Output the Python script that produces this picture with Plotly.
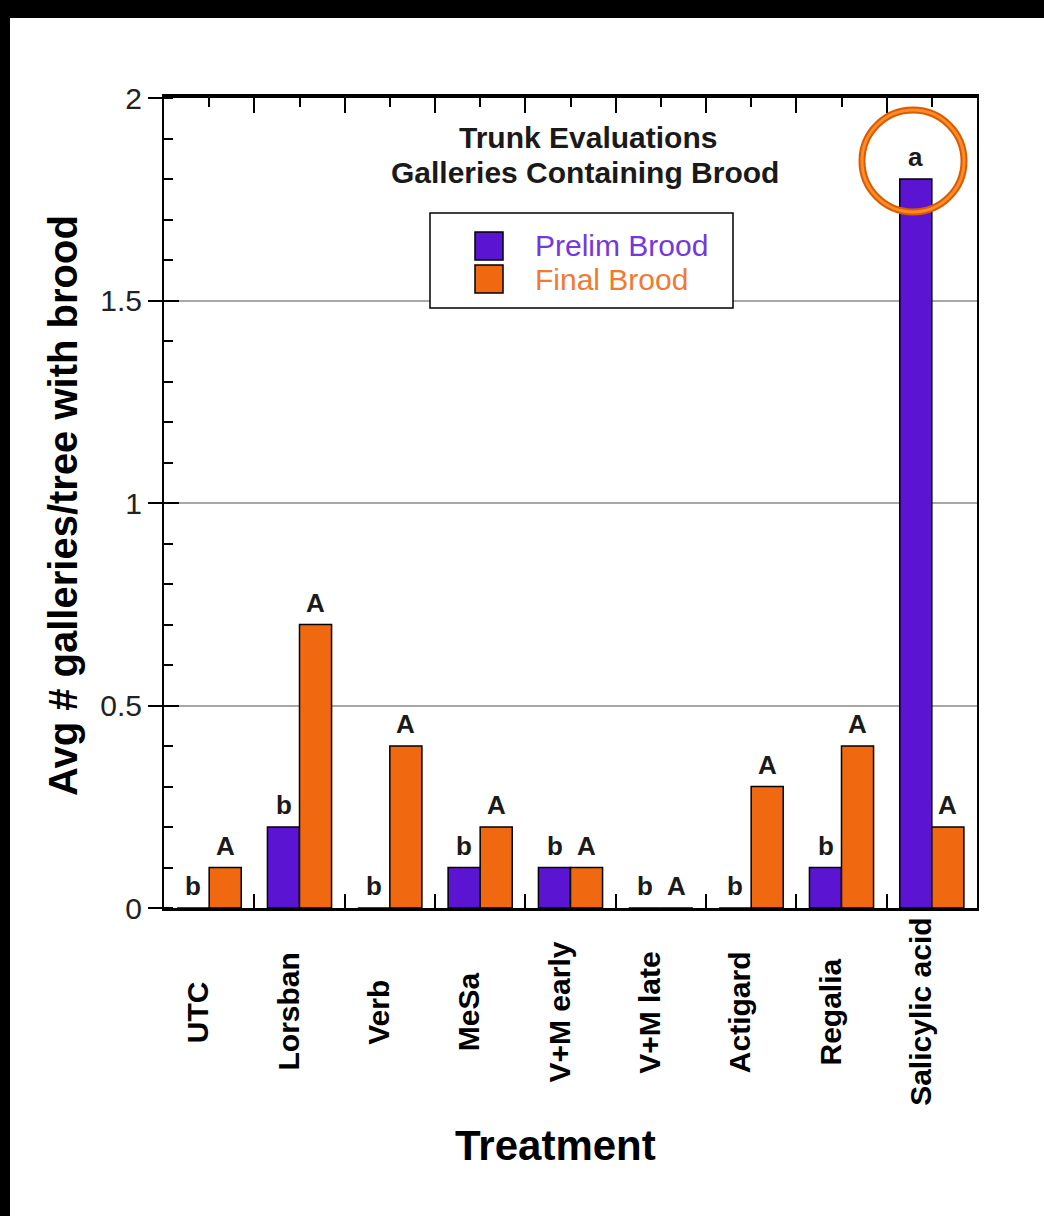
import plotly.graph_objects as go

# Trunk evaluation data: average galleries per tree containing brood
treatments = ["UTC", "Lorsban", "Verb", "MeSa", "V+M early", "V+M late",
              "Actigard", "Regalia", "Salicylic acid"]
prelim_brood = [0.0, 0.2, 0.0, 0.1, 0.1, 0.0, 0.0, 0.1, 1.8]
final_brood = [0.1, 0.7, 0.4, 0.2, 0.1, 0.0, 0.3, 0.4, 0.2]
prelim_letters = ["b", "b", "b", "b", "b", "b", "b", "b", "a"]
final_letters = ["A", "A", "A", "A", "A", "A", "A", "A", "A"]
y_tick_vals = [0, 0.5, 1, 1.5, 2]
y_tick_text = ["0", "0.5", "1", "1.5", "2"]

PURPLE = "#5B14D2"
ORANGE = "#F0680F"
PURPLE_TXT = "#7438E0"
ORANGE_TXT = "#F07A30"

W, H = 1044, 1216
L, R, T, B = 164, 977, 98, 908  # plot area in pixels


def px(xp):
    return (xp - L) / (R - L)


def py(yp):
    return (B - yp) / (B - T)


fig = go.Figure()
fig.add_trace(go.Bar(name="Prelim Brood", x=treatments, y=prelim_brood,
                     marker=dict(color=PURPLE, line=dict(color="black", width=1.5))))
fig.add_trace(go.Bar(name="Final Brood", x=treatments, y=final_brood,
                     marker=dict(color=ORANGE, line=dict(color="black", width=1.5))))
# empty helpers so the top and inner-left tick axes are drawn
fig.add_trace(go.Scatter(x=[], y=[], xaxis="x2", yaxis="y", showlegend=False))
fig.add_trace(go.Scatter(x=[], y=[], xaxis="x", yaxis="y2", showlegend=False))

ann = []
BAR_HALF = 16
letter_font = dict(family="Liberation Sans, Arial, sans-serif", size=26, color="#1a1a1a")
for t, v, s in zip(treatments, prelim_brood, prelim_letters):
    ann.append(dict(x=t, y=v, xref="x", yref="y", text="<b>%s</b>" % s, showarrow=False,
                    xshift=-BAR_HALF, yshift=5, yanchor="bottom", font=letter_font))
for t, v, s in zip(treatments, final_brood, final_letters):
    ann.append(dict(x=t, y=v, xref="x", yref="y", text="<b>%s</b>" % s, showarrow=False,
                    xshift=BAR_HALF, yshift=5, yanchor="bottom", font=letter_font))

# rotated category labels, centred below the axis
for t in treatments:
    ann.append(dict(x=t, y=py(1012), xref="x", yref="paper", text="<b>%s</b>" % t,
                    textangle=-90, showarrow=False, xshift=-12, xanchor="center",
                    yanchor="middle",
                    font=dict(family="Liberation Sans, Arial, sans-serif", size=30, color="black")))

title_font = dict(family="Liberation Sans, Arial, sans-serif", size=30, color="#1a1a1a")
ann.append(dict(x=px(588), y=py(137), xref="paper", yref="paper", text="<b>Trunk Evaluations</b>",
                showarrow=False, xanchor="center", yanchor="middle", font=title_font))
ann.append(dict(x=px(585), y=py(173), xref="paper", yref="paper",
                text="<b>Galleries Containing Brood</b>",
                showarrow=False, xanchor="center", yanchor="middle", font=title_font))

# axis titles
ann.append(dict(x=px(555), y=py(1145), xref="paper", yref="paper", text="<b>Treatment</b>",
                showarrow=False, xanchor="center", yanchor="middle",
                font=dict(family="Liberation Sans Narrow, Liberation Sans, Arial", size=42, color="black")))
ann.append(dict(x=px(63), y=py(506), xref="paper", yref="paper",
                text="<b>Avg # galleries/tree with brood</b>", textangle=-90,
                showarrow=False, xanchor="center", yanchor="middle",
                font=dict(family="Liberation Sans, Arial, sans-serif", size=40, color="black")))

# legend box drawn by hand
shapes = []
shapes.append(dict(type="rect", xref="paper", yref="paper", x0=px(430), x1=px(733),
                   y0=py(308), y1=py(213), line=dict(color="black", width=1.5),
                   fillcolor="white", layer="above"))
legend_items = [(fig.data[0].name, PURPLE, PURPLE_TXT, 232), (fig.data[1].name, ORANGE, ORANGE_TXT, 265)]
for name, col, tcol, top in legend_items:
    shapes.append(dict(type="rect", xref="paper", yref="paper", x0=px(475), x1=px(503),
                       y0=py(top + 28), y1=py(top), fillcolor=col,
                       line=dict(color="black", width=1.5), layer="above"))
    ann.append(dict(x=px(533), y=py(top + 14), xref="paper", yref="paper", text=name,
                    showarrow=False, xanchor="left", yanchor="middle",
                    font=dict(family="Liberation Sans, Arial, sans-serif", size=30, color=tcol)))

# highlight ring around the significant result
shapes.append(dict(type="circle", xref="paper", yref="paper", x0=px(862), x1=px(964),
                   y0=py(212), y1=py(110), line=dict(color="#D85C00", width=7), layer="above"))
shapes.append(dict(type="circle", xref="paper", yref="paper", x0=px(862), x1=px(964),
                   y0=py(212), y1=py(110), line=dict(color="#FF8A2A", width=3), layer="above"))

# dark frame along the top and left edges
shapes.append(dict(type="rect", xref="paper", yref="paper", x0=px(-5), x1=px(W + 5),
                   y0=py(18), y1=py(-5), fillcolor="black", line=dict(width=0), layer="above"))
shapes.append(dict(type="rect", xref="paper", yref="paper", x0=px(-5), x1=px(10),
                   y0=py(H + 5), y1=py(-5), fillcolor="black", line=dict(width=0), layer="above"))

fig.update_layout(
    width=W, height=H,
    margin=dict(l=L, r=W - R, t=T, b=H - B, autoexpand=False),
    paper_bgcolor="white", plot_bgcolor="white",
    barmode="group", bargap=0.29, bargroupgap=0,
    showlegend=False,
    annotations=ann, shapes=shapes,
    xaxis=dict(type="category", range=[-0.5, 8.5], showline=True, linecolor="black",
               linewidth=2.5, ticks="inside", tickson="boundaries", ticklen=14,
               tickwidth=2, tickcolor="black", showticklabels=False, showgrid=False,
               zeroline=False),
    xaxis2=dict(overlaying="x", side="top", anchor="y", range=[-0.5, 8.5],
                tickmode="array", tickvals=[i - 0.5 for i in range(1, 9)],
                ticks="inside", ticklen=15, tickwidth=2, tickcolor="black",
                minor=dict(tickmode="array", tickvals=list(range(9)), ticks="inside",
                           ticklen=9, tickwidth=1.5, tickcolor="black"),
                showline=True, linecolor="black", linewidth=3.5,
                showticklabels=False, showgrid=False, zeroline=False),
    yaxis=dict(range=[0, 2], tickmode="array", tickvals=y_tick_vals, ticktext=y_tick_text,
               ticks="outside", ticklen=14, tickwidth=2, tickcolor="black",
               minor=dict(dtick=0.1, tick0=0, ticks="inside", ticklen=9, tickwidth=1.5,
                          tickcolor="black", showgrid=False),
               showline=True, mirror=True, linecolor="black", linewidth=2,
               showgrid=True, gridcolor="#A8A8A8", gridwidth=1.5, zeroline=False,
               tickfont=dict(family="Liberation Sans Narrow, Liberation Sans, Arial",
                             size=30, color="#222")),
    yaxis2=dict(overlaying="y", side="left", anchor="x", range=[0, 2],
                tickmode="array", tickvals=y_tick_vals, ticks="inside", ticklen=15,
                tickwidth=2, tickcolor="black", showticklabels=False, showgrid=False,
                zeroline=False, showline=False),
)

fig.write_html("out.html")
